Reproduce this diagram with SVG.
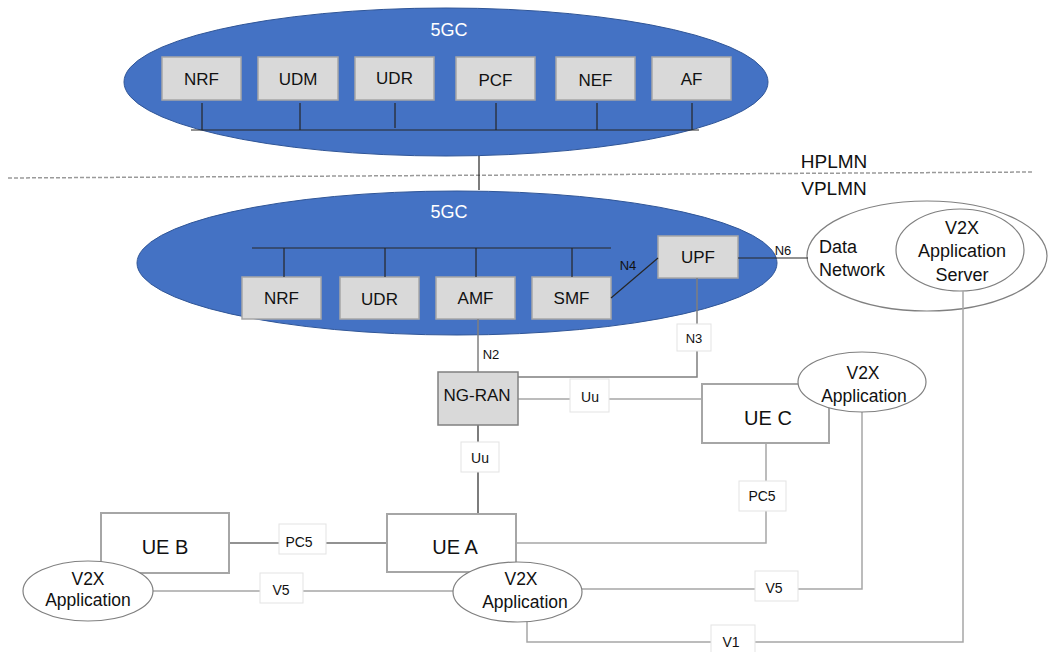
<svg xmlns="http://www.w3.org/2000/svg" width="1049" height="652" viewBox="0 0 1049 652">
<style>
text{font-family:"Liberation Sans",Arial,sans-serif;fill:#111;text-anchor:middle}
.core{fill:#4472C4;stroke:#2F5597;stroke-width:1}
.nf{fill:#D9D9D9;stroke:#A6A6A6;stroke-width:1.5}
.nft{font-size:17px}
.ue{fill:#fff;stroke:#A6A6A6;stroke-width:2}
.uet{font-size:20px}
.app{fill:#fff;stroke:#808080;stroke-width:1.2}
.appt{font-size:17.5px}
.lbl{fill:#fff;stroke:#E3E3E3;stroke-width:1}
.lt{font-size:14px}
.dk{fill:none;stroke:#262626;stroke-width:1.2}
.md{fill:none;stroke:#7F7F7F;stroke-width:1.5}
.lg{fill:none;stroke:#A6A6A6;stroke-width:1.5}
.wt{fill:#fff;font-size:18px}
</style>

<!-- PLMN separator -->
<g id="plmn">
<line x1="8" y1="178" x2="1033" y2="172" stroke="#9A9A9A" stroke-width="1.5" stroke-dasharray="4 2"/>
<text x="834" y="168" style="font-size:19px">HPLMN</text>
<text x="834" y="195" style="font-size:19px">VPLMN</text>
</g>

<!-- Home 5GC -->
<g id="home-5gc">
<ellipse class="core" cx="446" cy="82" rx="322" ry="74"/>
<text class="wt" x="449" y="36">5GC</text>
</g>
<g id="h-nrf"><rect class="nf" x="162" y="57" width="79" height="43"/><text class="nft" x="201.5" y="85">NRF</text></g>
<g id="h-udm"><rect class="nf" x="258" y="57" width="80" height="43"/><text class="nft" x="298" y="85">UDM</text></g>
<g id="h-udr"><rect class="nf" x="355" y="57" width="79" height="43"/><text class="nft" x="394.5" y="84">UDR</text></g>
<g id="h-pcf"><rect class="nf" x="456" y="57" width="79" height="43"/><text class="nft" x="495.5" y="86">PCF</text></g>
<g id="h-nef"><rect class="nf" x="556" y="57" width="79" height="43"/><text class="nft" x="595.5" y="86">NEF</text></g>
<g id="h-af"><rect class="nf" x="652" y="57" width="79" height="43"/><text class="nft" x="691.5" y="85">AF</text></g>

<!-- Visited 5GC -->
<g id="visited-5gc">
<ellipse class="core" cx="457" cy="263" rx="320" ry="72"/>
<text class="wt" x="449" y="218">5GC</text>
</g>
<g id="v-nrf"><rect class="nf" x="242" y="277" width="79" height="42"/><text class="nft" x="281.5" y="304">NRF</text></g>
<g id="v-udr"><rect class="nf" x="340" y="277" width="79" height="42"/><text class="nft" x="379.5" y="305">UDR</text></g>
<g id="v-amf"><rect class="nf" x="436" y="277" width="79" height="42"/><text class="nft" x="475.5" y="304">AMF</text></g>
<g id="v-smf"><rect class="nf" x="532" y="277" width="79" height="42"/><text class="nft" x="571.5" y="304">SMF</text></g>
<g id="v-upf"><rect class="nf" x="658" y="236" width="80" height="42"/><text class="nft" x="698" y="263">UPF</text></g>

<!-- Data network -->
<g id="data-network">
<ellipse class="app" cx="927" cy="256" rx="120" ry="55"/>
<text x="819" y="253" style="font-size:18px;text-anchor:start">Data</text>
<text x="819" y="276" style="font-size:18px;text-anchor:start">Network</text>
</g>
<g id="v2x-server">
<ellipse class="app" cx="960" cy="250" rx="64" ry="41"/>
<text x="962" y="234" style="font-size:18px">V2X</text>
<text x="962" y="257" style="font-size:18px">Application</text>
<text x="962" y="281" style="font-size:18px">Server</text>
</g>

<!-- Connectors -->
<g id="connectors">
<path class="dk" d="M191 130H699M202 103V130M300 103V130M395 103V128M496 103V130M597 103V130M692 103V130"/>
<path class="dk" stroke="#404040" d="M479 156V190"/>
<path class="dk" d="M252 248H611M284 248V277M385 248V277M476 248V277M572 248V277"/>
<path class="dk" d="M611 298L658 258"/>
<path class="dk" d="M738 258H808"/>
<path class="md" d="M478 319V372"/>
<path class="md" d="M697 278V377H518"/>
<path class="lg" stroke="#BFBFBF" d="M518 399H702"/>
<path class="dk" d="M478 425V514"/>
<path class="dk" d="M229 543H387"/>
<path class="lg" d="M766 443V543H516"/>
<path class="lg" d="M153 591H453"/>
<path class="lg" d="M582 589H862V411"/>
<path class="lg" d="M963 291V642H527V621"/>
</g>

<!-- Connector labels -->
<g id="labels">
<text class="lt" x="628" y="270" style="font-size:13px">N4</text>
<text class="lt" x="783" y="255" style="font-size:13px">N6</text>
<text class="lt" x="491" y="359" style="font-size:13px">N2</text>
<rect class="lbl" x="677" y="324" width="34" height="27"/>
<text class="lt" x="694" y="343" style="font-size:13px">N3</text>
<rect class="lbl" x="570" y="379" width="39" height="33"/>
<text class="lt" x="590" y="402">Uu</text>
<rect class="lbl" x="461" y="442" width="38" height="30"/>
<text class="lt" x="480" y="463">Uu</text>
<rect class="lbl" x="739" y="481" width="47" height="30"/>
<text class="lt" x="762" y="501">PC5</text>
<rect class="lbl" x="279" y="524" width="47" height="30"/>
<text class="lt" x="299" y="547">PC5</text>
<rect class="lbl" x="260" y="573" width="43" height="30"/>
<text class="lt" x="281" y="595">V5</text>
<rect class="lbl" x="755" y="571" width="43" height="30"/>
<text class="lt" x="774" y="593">V5</text>
<rect class="lbl" x="711" y="625" width="44" height="30"/>
<text class="lt" x="731" y="647">V1</text>
</g>

<!-- RAN and UEs -->
<g id="ng-ran"><rect x="438" y="372" width="80" height="53" fill="#D9D9D9" stroke="#808080" stroke-width="1.5"/><text class="nft" x="477" y="401">NG-RAN</text></g>
<g id="ue-c"><rect class="ue" x="702" y="384" width="127" height="59"/><text class="uet" x="768" y="425">UE C</text></g>
<g id="ue-a"><rect class="ue" x="387" y="514" width="129" height="58"/><text class="uet" x="455" y="554">UE A</text></g>
<g id="ue-b"><rect class="ue" x="101" y="513" width="128" height="60"/><text class="uet" x="165" y="554">UE B</text></g>

<g id="app-c"><ellipse class="app" cx="862" cy="382" rx="64" ry="30"/><text class="appt" x="863" y="379">V2X</text><text class="appt" x="864" y="402">Application</text></g>
<g id="app-b"><ellipse class="app" cx="88" cy="591" rx="65" ry="30"/><text class="appt" x="88" y="585">V2X</text><text class="appt" x="88" y="606">Application</text></g>
<g id="app-a"><ellipse class="app" cx="517.5" cy="592" rx="64.5" ry="30"/><text class="appt" x="521" y="585">V2X</text><text class="appt" x="525" y="608">Application</text></g>
</svg>
